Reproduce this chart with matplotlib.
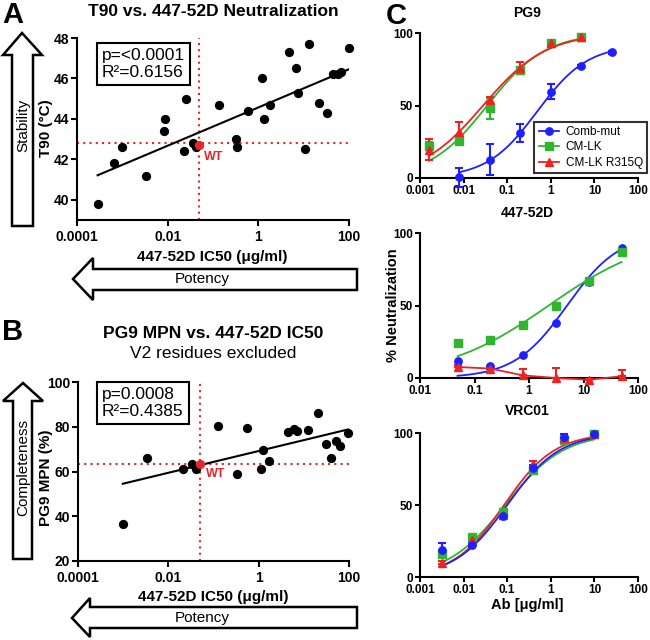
import numpy as np
import matplotlib
matplotlib.use("Agg")
import matplotlib.pyplot as plt
from matplotlib.patches import Polygon
from matplotlib.lines import Line2D
from matplotlib.ticker import NullLocator

plt.rcParams['font.family'] = ['Liberation Sans', 'DejaVu Sans']

# ---------------- data ----------------
# Panel A: T90 vs 447-52D IC50
a_ic50 = [0.000285, 0.000646, 0.001, 0.00339, 0.00851, 0.00891, 0.0224, 0.0257,
          0.0363, 0.0417, 0.135, 0.316, 0.331, 0.603, 1.23, 1.35, 1.82, 4.79,
          6.61, 7.41, 10.7, 12.9, 21.9, 33.1, 44.7, 57.5, 67.6, 100]
a_t90 = [39.8, 41.8, 42.6, 41.2, 43.4, 44.0, 42.4, 45.0, 42.8, 42.6, 44.7, 43.0,
         42.6, 44.4, 46.0, 44.0, 44.7, 47.3, 46.5, 45.3, 42.5, 47.7, 44.8, 44.3,
         46.2, 46.2, 46.3, 47.5]
a_wt = (0.05, 42.7)
a_ref = (0.05, 42.8)
a_stats = "p=<0.0001\nR²=0.6156"
a_xticks = [1e-4, 1e-2, 1, 100]
a_xticklabels = ["0.0001", "0.01", "1", "100"]
a_yticks = [40, 42, 44, 46, 48]

# Panel B: PG9 MPN vs 447-52D IC50
b_ic50 = [0.00098, 0.00331, 0.0209, 0.0339, 0.0417, 0.126, 0.324, 0.562, 1.15,
          1.26, 1.70, 4.57, 6.17, 7.08, 12.3, 20.9, 30.9, 40.7, 52.5, 63.1, 95.5]
b_mpn = [36.7, 66.2, 61.0, 63.5, 61.0, 80.2, 58.7, 79.6, 61.0, 69.5, 64.5, 77.7,
         79.1, 78.0, 78.4, 86.1, 72.1, 66.2, 73.5, 71.2, 77.4]
b_wt = (0.049, 63.5)
b_ref = (0.049, 63.5)
b_stats = "p=0.0008\nR²=0.4385"
b_yticks = [20, 40, 60, 80, 100]

# Panel C: neutralization curves
series_names = ["Comb-mut", "CM-LK", "CM-LK R315Q"]
series_colors = ["#1f1fff", "#2fb52f", "#ee2222"]
series_markers = ["o", "s", "^"]

pg9_x_blue = [0.008, 0.04, 0.2, 1, 5, 25]
pg9_x_other = [0.0016, 0.008, 0.04, 0.2, 1, 5]
pg9_blue = [0.5, 12.7, 31.2, 59.6, 76.9, 86.6]
pg9_blue_err = [6.5, 10.7, 6.2, 5.0, 1.0, 1.0]
pg9_green = [22.0, 25.4, 48.0, 74.4, 93.1, 97.4]
pg9_green_err = [3.0, 2.0, 7.3, 2.0, 2.0, 1.0]
pg9_red = [19.5, 31.9, 53.8, 75.7, 93.0, 97.0]
pg9_red_err = [7.2, 6.5, 2.0, 4.0, 1.5, 1.0]
# 4PL fit parameters: (bottom, top, EC50, hill)
pg9_fit_blue = (0, 92, 0.49, 0.75)
pg9_fit_green = (0, 100, 0.035, 0.65)
pg9_fit_red = (0, 100, 0.028, 0.60)

d52_x = [0.0488, 0.195, 0.781, 3.125, 12.5, 50]
d52_blue = [11.5, 8.1, 15.7, 38.1, 66.0, 89.6]
d52_green = [24.2, 25.9, 36.3, 49.7, 67.0, 86.6]
d52_red = [7.6, 6.5, 1.8, 0.0, -1.2, 1.2]
d52_red_err_up = [1.5, 2.0, 4.7, 7.0, 0.5, 4.0]
d52_fit_blue = (0, 100, 5.0, 0.9)
d52_fit_green = (0, 100, 2.3, 0.45)

vrc_x = [0.0032, 0.016, 0.08, 0.4, 2, 10]
vrc_blue = [19.0, 22.0, 42.6, 76.0, 97.0, 99.5]
vrc_blue_err = [4.5, 1.5, 2.0, 2.0, 2.0, 1.0]
vrc_green = [15.8, 28.0, 45.3, 74.4, 95.3, 99.5]
vrc_green_err = [2.0, 1.5, 2.0, 2.0, 1.0, 1.0]
vrc_red = [9.8, 25.6, 43.0, 78.6, 96.5, 99.5]
vrc_red_err = [1.0, 2.0, 3.0, 2.0, 1.0, 1.0]
vrc_fit_blue = (0, 100, 0.10, 0.72)
vrc_fit_green = (0, 100, 0.09, 0.65)
vrc_fit_red = (0, 100, 0.085, 0.75)

c_xticks = [0.001, 0.01, 0.1, 1, 10, 100]
c_xticklabels = ["0.001", "0.01", "0.1", "1", "10", "100"]
c2_xticks = [0.01, 0.1, 1, 10, 100]
c2_xticklabels = ["0.01", "0.1", "1", "10", "100"]
c_yticks = [0, 50, 100]

# ---------------- figure ----------------
W, H = 650, 640
fig = plt.figure(figsize=(6.5, 6.4), dpi=100)


def fx(x):
    return x / W


def fy(y):
    return 1 - y / H


def rect(l, t, r, b):
    return [l / W, 1 - b / H, (r - l) / W, (b - t) / H]


def style(ax, fs):
    for s in ['top', 'right']:
        ax.spines[s].set_visible(False)
    for s in ['left', 'bottom']:
        ax.spines[s].set_linewidth(1.5)
    ax.tick_params(width=1.5, length=4, direction='out', labelsize=fs)
    ax.tick_params(axis='y', pad=1.5)
    ax.xaxis.set_minor_locator(NullLocator())
    ax.yaxis.set_minor_locator(NullLocator())


def logistic(x, p):
    bottom, top, ec50, hill = p
    x = np.asarray(x, float)
    return bottom + (top - bottom) / (1 + (ec50 / x) ** hill)


def up_arrow(cx, tip, hx1, hx2, hb, sx1, sx2, bottom):
    pts = [(cx, tip), (hx2, hb), (sx2, hb), (sx2, bottom), (sx1, bottom),
           (sx1, hb), (hx1, hb)]
    fig.patches.append(Polygon([(fx(a), fy(b)) for a, b in pts], closed=True,
                               fc='white', ec='black', lw=1.8,
                               transform=fig.transFigure, joinstyle='miter'))


def left_arrow(tipx, cy, hy1, hy2, hbx, sy1, sy2, right):
    pts = [(tipx, cy), (hbx, hy1), (hbx, sy1), (right, sy1), (right, sy2),
           (hbx, sy2), (hbx, hy2)]
    fig.patches.append(Polygon([(fx(a), fy(b)) for a, b in pts], closed=True,
                               fc='white', ec='black', lw=1.8,
                               transform=fig.transFigure, joinstyle='miter'))


red_ref = '#e8262a'

# ---- Panel A ----
axA = fig.add_axes(rect(77, 38, 349, 220))
style(axA, 10)
axA.set_xscale('log')
axA.set_xlim(1e-4, 100)
axA.set_ylim(39, 48)
axA.xaxis.set_minor_locator(NullLocator())
axA.set_xticks(a_xticks)
axA.set_xticklabels(a_xticklabels, fontweight='bold', fontsize=10)
axA.set_yticks(a_yticks)
axA.set_yticklabels([str(v) for v in a_yticks], fontweight='bold', fontsize=10)
axA.axhline(a_ref[1], color=red_ref, ls=(0, (1, 2)), lw=1.5, zorder=1)
axA.axvline(a_ref[0], color=red_ref, ls=(0, (1, 2)), lw=1.5, zorder=1)
xa_all = np.log10(np.array(a_ic50 + [a_wt[0]]))
ya_all = np.array(a_t90 + [a_wt[1]])
ka, ba = np.polyfit(xa_all, ya_all, 1)
lx = np.array([xa_all.min(), xa_all.max()])
axA.plot(10 ** lx, ka * lx + ba, color='black', lw=1.5, zorder=2)
axA.scatter(a_ic50, a_t90, s=32, color='black', zorder=3, clip_on=False)
axA.scatter([a_wt[0]], [a_wt[1]], s=32, color=red_ref, zorder=4, clip_on=False)
fig.text(fx(204), fy(157), "WT", color=red_ref, fontweight='bold', fontsize=9,
         ha='left', va='center')
fig.text(fx(102), fy(64), a_stats, fontsize=12.5, ha='left', va='center',
         linespacing=1.15,
         bbox=dict(boxstyle='square,pad=0.3', fc='white', ec='black', lw=1.5))

fig.text(fx(213), fy(12), "T90 vs. 447-52D Neutralization", fontweight='bold',
         fontsize=12.5, ha='center', va='center')
fig.text(fx(46), fy(128), "T90 (°C)", fontweight='bold', fontsize=11,
         rotation=90, ha='center', va='center')
fig.text(fx(212), fy(257), "447-52D IC50 (μg/ml)", fontweight='bold', fontsize=11,
         ha='center', va='center')
fig.text(fx(2), fy(23), "A", fontweight='bold', fontsize=21, ha='left', va='baseline')
up_arrow(22, 33, 3, 42, 55, 12, 33, 226)
fig.text(fx(23), fy(125), "Stability", fontsize=11, rotation=90, ha='center', va='center')
left_arrow(73, 279, 258, 300, 93, 269, 290, 357)
fig.text(fx(202), fy(279), "Potency", fontsize=11, ha='center', va='center')

# ---- Panel B ----
axB = fig.add_axes(rect(78, 382, 349, 561))
style(axB, 10)
axB.set_xscale('log')
axB.set_xlim(1e-4, 100)
axB.set_ylim(20, 100)
axB.xaxis.set_minor_locator(NullLocator())
axB.set_xticks(a_xticks)
axB.set_xticklabels(a_xticklabels, fontweight='bold', fontsize=10)
axB.set_yticks(b_yticks)
axB.set_yticklabels([str(v) for v in b_yticks], fontweight='bold', fontsize=10)
axB.axhline(b_ref[1], color=red_ref, ls=(0, (1, 2)), lw=1.5, zorder=1)
axB.axvline(b_ref[0], color=red_ref, ls=(0, (1, 2)), lw=1.5, zorder=1)
xb_all = np.log10(np.array(b_ic50 + [b_wt[0]]))
yb_all = np.array(b_mpn + [b_wt[1]])
kb, bb = np.polyfit(xb_all, yb_all, 1)
lxb = np.array([xb_all.min(), xb_all.max()])
axB.plot(10 ** lxb, kb * lxb + bb, color='black', lw=1.5, zorder=2)
axB.scatter(b_ic50, b_mpn, s=32, color='black', zorder=3, clip_on=False)
axB.scatter([b_wt[0]], [b_wt[1]], s=32, color=red_ref, zorder=4, clip_on=False)
fig.text(fx(206), fy(474), "WT", color=red_ref, fontweight='bold', fontsize=9,
         ha='left', va='center')
fig.text(fx(102), fy(403), b_stats, fontsize=12.5, ha='left', va='center',
         linespacing=1.15,
         bbox=dict(boxstyle='square,pad=0.3', fc='white', ec='black', lw=1.5))
fig.text(fx(213), fy(333), "PG9 MPN vs. 447-52D IC50", fontweight='bold',
         fontsize=12.5, ha='center', va='center')
fig.text(fx(213), fy(354), "V2 residues excluded", fontsize=12.5,
         ha='center', va='center')
fig.text(fx(46), fy(478), "PG9 MPN (%)", fontweight='bold', fontsize=11,
         rotation=90, ha='center', va='center')
fig.text(fx(213), fy(597), "447-52D IC50 (μg/ml)", fontweight='bold', fontsize=11,
         ha='center', va='center')
fig.text(fx(2), fy(340), "B", fontweight='bold', fontsize=21, ha='left', va='baseline')
up_arrow(23, 383, 3, 43, 401, 13, 32, 559)
fig.text(fx(23), fy(467), "Completeness", fontsize=11, rotation=90,
         ha='center', va='center')
left_arrow(72, 618, 598, 637, 90, 607, 628, 357)
fig.text(fx(202), fy(618), "Potency", fontsize=11, ha='center', va='center')


# ---- Panel C ----
def setup_c(ax, xlim, xticks, xlabels):
    style(ax, 8.5)
    ax.set_xscale('log')
    ax.set_xlim(*xlim)
    ax.set_ylim(0, 100)
    ax.xaxis.set_minor_locator(NullLocator())
    ax.set_xticks(xticks)
    ax.set_xticklabels(xlabels, fontweight='bold', fontsize=8.5)
    ax.set_yticks(c_yticks)
    ax.set_yticklabels([str(v) for v in c_yticks], fontweight='bold', fontsize=8.5)
    ax.tick_params(length=3.5, pad=1.5)


def draw_series(ax, x, y, err, fit, idx, curve=True):
    col = series_colors[idx]
    mk = series_markers[idx]
    if err is not None:
        ax.errorbar(x, y, yerr=err, fmt='none', ecolor=col, elinewidth=1.5,
                    capsize=3, capthick=1.5, zorder=3, clip_on=False)
    if curve:
        xs = np.logspace(np.log10(min(x)), np.log10(max(x)), 200)
        ax.plot(xs, logistic(xs, fit), color=col, lw=1.3, zorder=2)
    ax.plot(x, y, ls='none', marker=mk, ms=5.3, color=col, zorder=4, clip_on=False)


axC1 = fig.add_axes(rect(420, 33, 638, 178))
setup_c(axC1, (0.001, 100), c_xticks, c_xticklabels)
draw_series(axC1, pg9_x_blue, pg9_blue, pg9_blue_err, pg9_fit_blue, 0)
draw_series(axC1, pg9_x_other, pg9_green, pg9_green_err, pg9_fit_green, 1)
draw_series(axC1, pg9_x_other, pg9_red, pg9_red_err, pg9_fit_red, 2)
handles = [Line2D([0], [0], color=series_colors[i], marker=series_markers[i],
                  ms=5.3, lw=1.3) for i in range(3)]
leg = fig.legend(handles, series_names, loc='lower right',
                 bbox_to_anchor=(fx(647), fy(173)), fontsize=8.5,
                 frameon=True, fancybox=False, handlelength=1.7,
                 handletextpad=0.6, borderpad=0.35, labelspacing=0.3,
                 borderaxespad=0)
leg.get_frame().set_edgecolor('black')
leg.get_frame().set_linewidth(1.5)

axC2 = fig.add_axes(rect(420, 233, 638, 378))
setup_c(axC2, (0.01, 100), c2_xticks, c2_xticklabels)
draw_series(axC2, d52_x, d52_blue, None, d52_fit_blue, 0)
draw_series(axC2, d52_x, d52_green, None, d52_fit_green, 1)
red_col = series_colors[2]
axC2.errorbar(d52_x, d52_red, yerr=[np.zeros(len(d52_red)), d52_red_err_up],
              fmt='none', ecolor=red_col, elinewidth=1.5, capsize=3, capthick=1.5,
              zorder=3, clip_on=False)
axC2.plot(d52_x, d52_red, color=red_col, lw=1.3, marker='^', ms=5.3, zorder=4,
          clip_on=False)

axC3 = fig.add_axes(rect(420, 433, 638, 577))
setup_c(axC3, (0.001, 100), c_xticks, c_xticklabels)
draw_series(axC3, vrc_x, vrc_green, vrc_green_err, vrc_fit_green, 1)
draw_series(axC3, vrc_x, vrc_red, vrc_red_err, vrc_fit_red, 2)
draw_series(axC3, vrc_x, vrc_blue, vrc_blue_err, vrc_fit_blue, 0)

fig.text(fx(527), fy(13), "PG9", fontweight='bold', fontsize=10, ha='center', va='center')
fig.text(fx(527), fy(213), "447-52D", fontweight='bold', fontsize=10, ha='center', va='center')
fig.text(fx(527), fy(411), "VRC01", fontweight='bold', fontsize=10, ha='center', va='center')
fig.text(fx(393), fy(305), "% Neutralization", fontweight='bold', fontsize=10.5,
         rotation=90, ha='center', va='center')
fig.text(fx(527), fy(605), "Ab [μg/ml]", fontweight='bold', fontsize=10.5,
         ha='center', va='center')
fig.text(fx(396), fy(24), "C", fontweight='bold', fontsize=21, ha='center', va='baseline')

fig.savefig("out.png", dpi=100)
